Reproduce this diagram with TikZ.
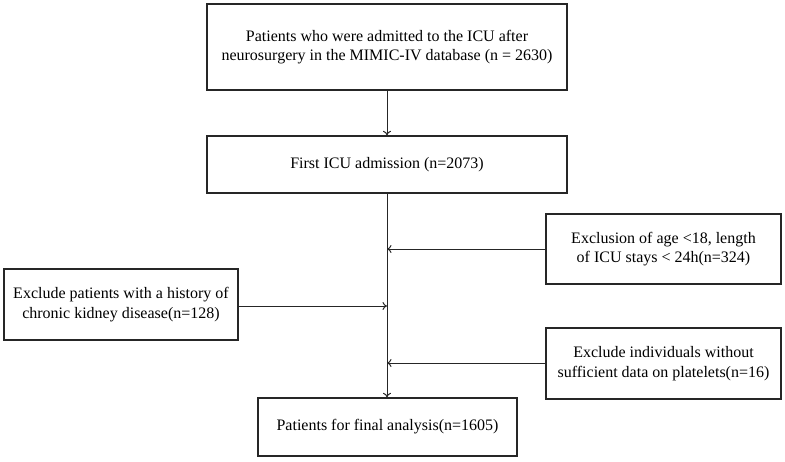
\documentclass[tikz,border=0pt]{standalone}
\usepackage{fontspec}
\setmainfont{Liberation Serif}
\usetikzlibrary{arrows.meta}
\begin{document}
\begin{tikzpicture}[x=1pt,y=-1pt,
  boxed/.style={draw=black!85,line width=1.3pt,rectangle,inner sep=0pt,align=center,
    font=\fontsize{16}{19.5}\selectfont},
  conn/.style={draw=black!85,line width=1pt,-{To[length=4.5pt,width=8pt]}}]
\useasboundingbox (0,0) rectangle (785,461);
\node[boxed,minimum width=360,minimum height=86] (a) at (387,47) {Patients who were admitted to the ICU after\\neurosurgery in the MIMIC-IV database (n = 2630)};
\node[boxed,minimum width=360,minimum height=57] (b) at (387,164.5) {First ICU admission (n=2073)};
\node[boxed,minimum width=234,minimum height=71] (c) at (121,304.5) {Exclude patients with a history of\\chronic kidney disease(n=128)};
\node[boxed,minimum width=235,minimum height=70] (d) at (663.5,249) {Exclusion of age <18, length\\of ICU stays < 24h(n=324)};
\node[boxed,minimum width=235,minimum height=71] (e) at (663.5,363.5) {Exclude individuals without\\sufficient data on platelets(n=16)};
\node[boxed,minimum width=259,minimum height=58] (f) at (387.5,427) {Patients for final analysis(n=1605)};
\coordinate (jd) at (387,249);
\coordinate (jc) at (387,306);
\coordinate (je) at (387,363);
\draw[conn] (a.south) -- (b.north);
\draw[conn] (b.south) -- (f.north -| b.south);
\draw[conn] (d.west |- jd) -- (jd);
\draw[conn] (c.east |- jc) -- (jc);
\draw[conn] (e.west |- je) -- (je);
\end{tikzpicture}
\end{document}
